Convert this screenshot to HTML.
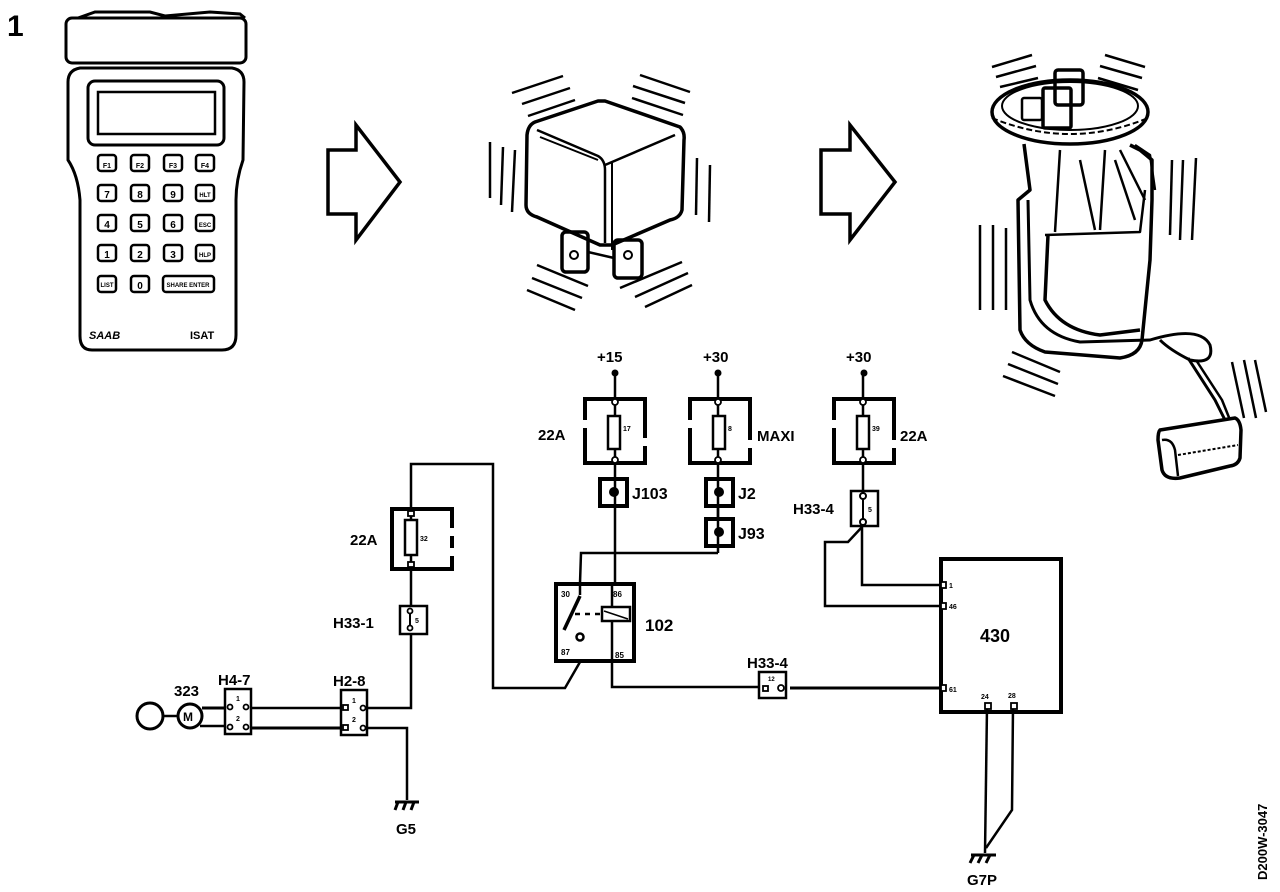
<!DOCTYPE html>
<html><head><meta charset="utf-8"><style>
html,body{margin:0;padding:0;background:#fff;}
svg{display:block;}
text{font-family:"Liberation Sans",sans-serif;font-weight:bold;fill:#000;}
</style></head><body>
<svg width="1280" height="892" viewBox="0 0 1280 892" xmlns="http://www.w3.org/2000/svg">
<rect width="1280" height="892" fill="#fff"/>
<text x="7" y="36" font-size="30">1</text>

<!-- Handheld device -->
<g fill="none" stroke="#000" stroke-width="3">
<path d="M78,18 L95,12 L150,12 L165,16 L210,12 L240,14 L245,18"/>
<rect x="66" y="18" width="180" height="45" rx="6"/>
<path d="M80,68 L232,68 Q244,70 244,82 L243,160 Q236,180 236,200 L236,335 Q236,350 222,350 L92,350 Q80,350 80,336 L80,200 Q78,175 68,160 L68,82 Q68,70 80,68 Z"/>
<rect x="88" y="81" width="136" height="64" rx="7"/>
<rect x="98" y="92" width="117" height="42" stroke-width="2.5"/>
</g>
<g fill="none" stroke="#000" stroke-width="2.5">
<rect x="98" y="155" width="18" height="16" rx="3"/><rect x="131" y="155" width="18" height="16" rx="3"/><rect x="164" y="155" width="18" height="16" rx="3"/><rect x="196" y="155" width="18" height="16" rx="3"/>
<rect x="98" y="185" width="18" height="16" rx="3"/><rect x="131" y="185" width="18" height="16" rx="3"/><rect x="164" y="185" width="18" height="16" rx="3"/><rect x="196" y="185" width="18" height="16" rx="3"/>
<rect x="98" y="215" width="18" height="16" rx="3"/><rect x="131" y="215" width="18" height="16" rx="3"/><rect x="164" y="215" width="18" height="16" rx="3"/><rect x="196" y="215" width="18" height="16" rx="3"/>
<rect x="98" y="245" width="18" height="16" rx="3"/><rect x="131" y="245" width="18" height="16" rx="3"/><rect x="164" y="245" width="18" height="16" rx="3"/><rect x="196" y="245" width="18" height="16" rx="3"/>
<rect x="98" y="276" width="18" height="16" rx="3"/><rect x="131" y="276" width="18" height="16" rx="3"/><rect x="163" y="276" width="51" height="16" rx="3"/>
</g>
<g font-size="10" text-anchor="middle">
<text x="107" y="168" font-size="7">F1</text><text x="140" y="168" font-size="7">F2</text><text x="173" y="168" font-size="7">F3</text><text x="205" y="168" font-size="7">F4</text>
<text x="107" y="198">7</text><text x="140" y="198">8</text><text x="173" y="198">9</text><text x="205" y="197" font-size="6">HLT</text>
<text x="107" y="228">4</text><text x="140" y="228">5</text><text x="173" y="228">6</text><text x="205" y="227" font-size="6">ESC</text>
<text x="107" y="258">1</text><text x="140" y="258">2</text><text x="173" y="258">3</text><text x="205" y="257" font-size="6">HLP</text>
<text x="107" y="287" font-size="6">LIST</text><text x="140" y="289">0</text><text x="188" y="287" font-size="6">SHARE ENTER</text>
</g>
<text x="89" y="339" font-size="11" font-style="italic">SAAB</text>
<text x="190" y="339" font-size="11">ISAT</text>

<!-- Arrows -->
<g fill="none" stroke="#000" stroke-width="3.5">
<path d="M328,150 L356,150 L356,125 L400,182 L356,240 L356,214 L328,214 Z"/>
<path d="M821,150 L850,150 L850,125 L895,182 L850,240 L850,214 L821,214 Z"/>
</g>

<!-- Relay cube -->
<g fill="none" stroke="#000" stroke-width="3.5" stroke-linejoin="round">
<path d="M535,122 L598,101 L605,101 L680,127 Q685,132 684,140 L682,210 Q680,218 670,220 L612,245 L600,245 L537,217 Q526,214 526,205 L527,135 Q528,125 535,122 Z"/>
<path d="M537,130 L598,156 Q605,160 605,170 L605,243" stroke-width="2.5"/>
<path d="M540,137 L598,160" stroke-width="2"/>
<path d="M605,165 L675,135" stroke-width="2.5"/>
<path d="M612,250 L612,163" stroke-width="2"/>
<rect x="562" y="232" width="26" height="40" rx="4"/>
<rect x="614" y="240" width="28" height="38" rx="4"/>
<circle cx="574" cy="255" r="4" stroke-width="2"/><circle cx="628" cy="255" r="4" stroke-width="2"/>
<path d="M588,252 L614,258" stroke-width="2.5"/>
</g>
<g stroke="#000" stroke-width="2.5">
<line x1="512" y1="93" x2="563" y2="76"/><line x1="522" y1="104" x2="570" y2="88"/><line x1="528" y1="116" x2="575" y2="100"/>
<line x1="640" y1="75" x2="690" y2="92"/><line x1="633" y1="86" x2="685" y2="103"/><line x1="632" y1="98" x2="683" y2="115"/>
<line x1="490" y1="142" x2="490" y2="198"/><line x1="503" y1="147" x2="501" y2="205"/><line x1="515" y1="150" x2="512" y2="212"/>
<line x1="697" y1="158" x2="696" y2="215"/><line x1="710" y1="165" x2="709" y2="222"/>
<line x1="537" y1="265" x2="588" y2="286"/><line x1="532" y1="278" x2="582" y2="298"/><line x1="527" y1="290" x2="575" y2="310"/>
<line x1="620" y1="288" x2="682" y2="262"/><line x1="635" y1="297" x2="688" y2="273"/><line x1="645" y1="307" x2="692" y2="285"/>
</g>

<!-- Fuel pump -->
<g fill="none" stroke="#000" stroke-width="3.5" stroke-linejoin="round">
<ellipse cx="1070" cy="112" rx="78" ry="32"/>
<ellipse cx="1070" cy="106" rx="68" ry="24" stroke-width="2"/>
<path d="M992,118 Q1070,150 1148,118" stroke-width="2" stroke-dasharray="6,3"/>
<rect x="1055" y="70" width="28" height="35" rx="3"/>
<rect x="1043" y="88" width="28" height="40" rx="2"/>
<rect x="1022" y="98" width="20" height="22" rx="2" stroke-width="2.5"/>
<path d="M1024,144 L1030,190 L1018,200 L1020,330 Q1025,345 1045,352 L1120,358 Q1140,355 1142,340 L1150,260 L1152,200 L1152,160 L1140,150 L1130,145"/>
<path d="M1048,235 L1045,300 Q1060,330 1100,335 L1140,330"/>
<path d="M1045,235 L1140,232 L1145,190" stroke-width="2.5"/>
<path d="M1060,150 L1055,232 M1080,160 L1095,230 M1105,150 L1100,230 M1115,160 L1135,220 M1120,150 L1145,200" stroke-width="2.5"/>
<path d="M1135,145 L1150,155 L1155,190" stroke-width="2.5"/>
<path d="M1028,200 L1030,300 Q1040,335 1080,342 L1150,340 Q1200,325 1210,345 Q1215,365 1190,360 Q1170,350 1160,340" stroke-width="3"/>
<path d="M1188,358 L1215,400 L1225,420" stroke-width="3"/>
<path d="M1196,360 L1222,400 L1230,420" stroke-width="2.5"/>
<path d="M1160,430 L1235,418 Q1240,420 1241,430 L1240,458 Q1238,465 1230,466 L1180,478 Q1165,480 1162,470 L1158,440 Q1158,432 1160,430 Z"/>
<path d="M1162,440 Q1172,438 1175,450 L1178,476" stroke-width="2.5"/>
<path d="M1178,455 L1238,445" stroke-width="2" stroke-dasharray="3,2"/>
</g>
<g stroke="#000" stroke-width="2.5">
<line x1="992" y1="67" x2="1032" y2="55"/><line x1="996" y1="77" x2="1036" y2="66"/><line x1="1000" y1="87" x2="1038" y2="78"/>
<line x1="1105" y1="55" x2="1145" y2="67"/><line x1="1100" y1="66" x2="1142" y2="78"/><line x1="1098" y1="78" x2="1138" y2="90"/>
<line x1="980" y1="225" x2="980" y2="310"/><line x1="993" y1="225" x2="993" y2="310"/><line x1="1006" y1="228" x2="1006" y2="310"/>
<line x1="1172" y1="160" x2="1170" y2="235"/><line x1="1183" y1="160" x2="1180" y2="240"/><line x1="1196" y1="158" x2="1192" y2="240"/>
<line x1="1012" y1="352" x2="1060" y2="372"/><line x1="1008" y1="364" x2="1058" y2="384"/><line x1="1003" y1="376" x2="1055" y2="396"/>
<line x1="1232" y1="362" x2="1244" y2="418"/><line x1="1244" y1="360" x2="1256" y2="418"/><line x1="1255" y1="360" x2="1266" y2="412"/>
</g>

<!-- Circuit wires -->
<g fill="none" stroke="#000" stroke-width="2.5">
<line x1="615" y1="373" x2="615" y2="583"/>
<line x1="718" y1="373" x2="718" y2="553"/>
<polyline points="718,553 581,553 580,583"/>
<line x1="863" y1="373" x2="863" y2="490"/>
<polyline points="862,526 862,585 940,585"/>
<polyline points="862,527 848,542 825,542 825,606 940,606"/>
<polyline points="612,662 612,687 760,687"/>
<line x1="790" y1="688" x2="940" y2="688" stroke-width="3"/>
<polyline points="580,662 565,688 493,688 493,464 411,464 411,508"/>
<line x1="411" y1="570" x2="411" y2="606"/>
<polyline points="411,634 411,708 368,708"/>
<polyline points="367,728 407,728 407,800"/>
<line x1="250" y1="708" x2="341" y2="708"/>
<line x1="250" y1="728" x2="341" y2="728" stroke-width="3"/>
<line x1="202" y1="708" x2="224" y2="708" stroke-width="3"/>
<line x1="200" y1="726" x2="224" y2="726"/>
<line x1="163" y1="716" x2="178" y2="716"/>
<polyline points="987,707 985,853"/>
<polyline points="1013,707 1012,810 986,848"/>
</g>

<!-- Power dots & labels -->
<circle cx="615" cy="373" r="3.5"/><circle cx="718" cy="373" r="3.5"/><circle cx="864" cy="373" r="3.5"/>
<text x="597" y="362" font-size="15">+15</text>
<text x="703" y="362" font-size="15">+30</text>
<text x="846" y="362" font-size="15">+30</text>

<!-- Fuse boxes -->
<g fill="#fff" stroke="#000" stroke-width="4">
<rect x="585" y="399" width="60" height="64"/>
<rect x="690" y="399" width="60" height="64"/>
<rect x="834" y="399" width="60" height="64"/>
<rect x="392" y="509" width="60" height="60"/>
</g>
<g fill="none" stroke="#fff" stroke-width="6">
<line x1="585" y1="420" x2="585" y2="428"/><line x1="645" y1="438" x2="645" y2="446"/>
<line x1="690" y1="420" x2="690" y2="428"/><line x1="750" y1="440" x2="750" y2="448"/>
<line x1="834" y1="420" x2="834" y2="428"/><line x1="894" y1="440" x2="894" y2="448"/>
<line x1="452" y1="528" x2="452" y2="536"/><line x1="452" y1="548" x2="452" y2="556"/>
</g>
<g fill="none" stroke="#000" stroke-width="2.5">
<rect x="608" y="416" width="12" height="33"/><rect x="713" y="416" width="12" height="33"/><rect x="857" y="416" width="12" height="33"/><rect x="405" y="520" width="12" height="35"/>
<line x1="615" y1="399" x2="615" y2="416"/><line x1="615" y1="449" x2="615" y2="463"/>
<line x1="718" y1="399" x2="718" y2="416"/><line x1="718" y1="449" x2="718" y2="463"/>
<line x1="863" y1="399" x2="863" y2="416"/><line x1="863" y1="449" x2="863" y2="463"/>
<line x1="411" y1="509" x2="411" y2="520"/><line x1="411" y1="555" x2="411" y2="569"/>
</g>
<g fill="#fff" stroke="#000" stroke-width="1.8">
<circle cx="615" cy="402" r="3"/><circle cx="615" cy="460" r="3"/>
<circle cx="718" cy="402" r="3"/><circle cx="718" cy="460" r="3"/>
<circle cx="863" cy="402" r="3"/><circle cx="863" cy="460" r="3"/>
<rect x="408" y="511" width="6" height="5"/><rect x="408" y="562" width="6" height="5"/>
</g>
<g font-size="7"><text x="623" y="431">17</text><text x="728" y="431">8</text><text x="872" y="431">39</text><text x="420" y="541">32</text></g>
<text x="538" y="440" font-size="15">22A</text>
<text x="757" y="441" font-size="15">MAXI</text>
<text x="900" y="441" font-size="15">22A</text>
<text x="350" y="545" font-size="15">22A</text>

<!-- J junctions -->
<g fill="#fff" stroke="#000" stroke-width="4">
<rect x="600" y="479" width="27" height="27"/>
<rect x="706" y="479" width="27" height="27"/>
<rect x="706" y="519" width="27" height="27"/>
</g>
<line x1="615" y1="479" x2="615" y2="506" stroke="#000" stroke-width="2.5"/>
<line x1="718" y1="479" x2="718" y2="546" stroke="#000" stroke-width="2.5"/>
<circle cx="614" cy="492" r="5"/><circle cx="719" cy="492" r="5"/><circle cx="719" cy="532" r="5"/>
<text x="632" y="499" font-size="16">J103</text>
<text x="738" y="499" font-size="16">J2</text>
<text x="738" y="539" font-size="16">J93</text>

<!-- Relay 102 -->
<rect x="556" y="584" width="78" height="77" fill="none" stroke="#000" stroke-width="4"/>
<g fill="none" stroke="#000" stroke-width="2.5">
<line x1="580" y1="584" x2="580" y2="595"/>
<line x1="580" y1="596" x2="564" y2="630" stroke-width="3.5"/>
<line x1="575" y1="614" x2="600" y2="614" stroke-dasharray="5,5"/>
<rect x="602" y="607" width="28" height="14"/>
<line x1="604" y1="611" x2="628" y2="619" stroke-width="1.5"/>
<line x1="612" y1="584" x2="612" y2="607"/><line x1="612" y1="621" x2="612" y2="661"/>
<circle cx="580" cy="637" r="3.5"/>
</g>
<g font-size="8"><text x="561" y="597">30</text><text x="613" y="597">86</text><text x="561" y="655">87</text><text x="615" y="658">85</text></g>
<text x="645" y="631" font-size="17">102</text>

<!-- H33-4 top -->
<rect x="851" y="491" width="27" height="35" fill="#fff" stroke="#000" stroke-width="2.5"/>
<line x1="863" y1="491" x2="863" y2="524" stroke="#000" stroke-width="2"/>
<circle cx="863" cy="496" r="3" fill="#fff" stroke="#000" stroke-width="2"/>
<circle cx="863" cy="522" r="3" fill="#fff" stroke="#000" stroke-width="2"/>
<text x="868" y="512" font-size="7">5</text>
<text x="793" y="514" font-size="15">H33-4</text>

<!-- H33-4 bottom -->
<rect x="759" y="672" width="27" height="26" fill="#fff" stroke="#000" stroke-width="2.5"/>
<rect x="763" y="686" width="5" height="5" fill="#fff" stroke="#000" stroke-width="1.8"/>
<circle cx="781" cy="688" r="3" fill="#fff" stroke="#000" stroke-width="1.8"/>
<text x="768" y="681" font-size="6">12</text>
<text x="747" y="668" font-size="15">H33-4</text>

<!-- 430 -->
<rect x="941" y="559" width="120" height="153" fill="none" stroke="#000" stroke-width="4"/>
<g fill="#fff" stroke="#000" stroke-width="1.8">
<rect x="941" y="582" width="5" height="6"/><rect x="941" y="603" width="5" height="6"/><rect x="941" y="685" width="5" height="6"/>
<rect x="985" y="703" width="6" height="6"/><rect x="1011" y="703" width="6" height="6"/>
</g>
<g font-size="7"><text x="949" y="588">1</text><text x="949" y="609">46</text><text x="949" y="692">61</text><text x="981" y="699">24</text><text x="1008" y="698">28</text></g>
<text x="980" y="642" font-size="18">430</text>

<!-- H33-1 -->
<rect x="400" y="606" width="27" height="28" fill="#fff" stroke="#000" stroke-width="2.5"/>
<line x1="410" y1="609" x2="410" y2="630" stroke="#000" stroke-width="2"/>
<circle cx="410" cy="611" r="2.5" fill="#fff" stroke="#000" stroke-width="1.8"/>
<circle cx="410" cy="628" r="2.5" fill="#fff" stroke="#000" stroke-width="1.8"/>
<text x="415" y="623" font-size="7">5</text>
<text x="333" y="628" font-size="15">H33-1</text>

<!-- H2-8 -->
<rect x="341" y="690" width="26" height="45" fill="#fff" stroke="#000" stroke-width="2.5"/>
<g fill="#fff" stroke="#000" stroke-width="1.8">
<rect x="343" y="705" width="5" height="5"/><circle cx="363" cy="708" r="2.5"/>
<rect x="343" y="725" width="5" height="5"/><circle cx="363" cy="728" r="2.5"/>
</g>
<g font-size="7"><text x="352" y="703">1</text><text x="352" y="722">2</text></g>
<text x="333" y="686" font-size="15">H2-8</text>

<!-- H4-7 -->
<rect x="225" y="689" width="26" height="45" fill="#fff" stroke="#000" stroke-width="2.5"/>
<g fill="#fff" stroke="#000" stroke-width="1.8">
<circle cx="230" cy="707" r="2.5"/><circle cx="246" cy="707" r="2.5"/>
<circle cx="230" cy="727" r="2.5"/><circle cx="246" cy="727" r="2.5"/>
</g>
<g font-size="7"><text x="236" y="701">1</text><text x="236" y="721">2</text></g>
<text x="218" y="685" font-size="15">H4-7</text>

<!-- Motor & pump circle -->
<circle cx="190" cy="716" r="12" fill="#fff" stroke="#000" stroke-width="3"/>
<text x="183" y="721" font-size="12">M</text>
<circle cx="150" cy="716" r="13" fill="none" stroke="#000" stroke-width="3"/>
<text x="174" y="696" font-size="15">323</text>

<!-- Grounds -->
<g stroke="#000" stroke-width="3" fill="none">
<line x1="395" y1="802" x2="419" y2="802"/>
<line x1="398" y1="802" x2="395" y2="810"/><line x1="406" y1="802" x2="403" y2="810"/><line x1="414" y1="802" x2="411" y2="810"/>
<line x1="971" y1="855" x2="996" y2="855"/>
<line x1="974" y1="855" x2="970" y2="863"/><line x1="982" y1="855" x2="978" y2="863"/><line x1="990" y1="855" x2="986" y2="863"/>
</g>
<text x="396" y="834" font-size="15">G5</text>
<text x="967" y="885" font-size="15">G7P</text>

<text transform="translate(1267,880) rotate(-90)" font-size="13">D200W-3047</text>
</svg>
</body></html>
